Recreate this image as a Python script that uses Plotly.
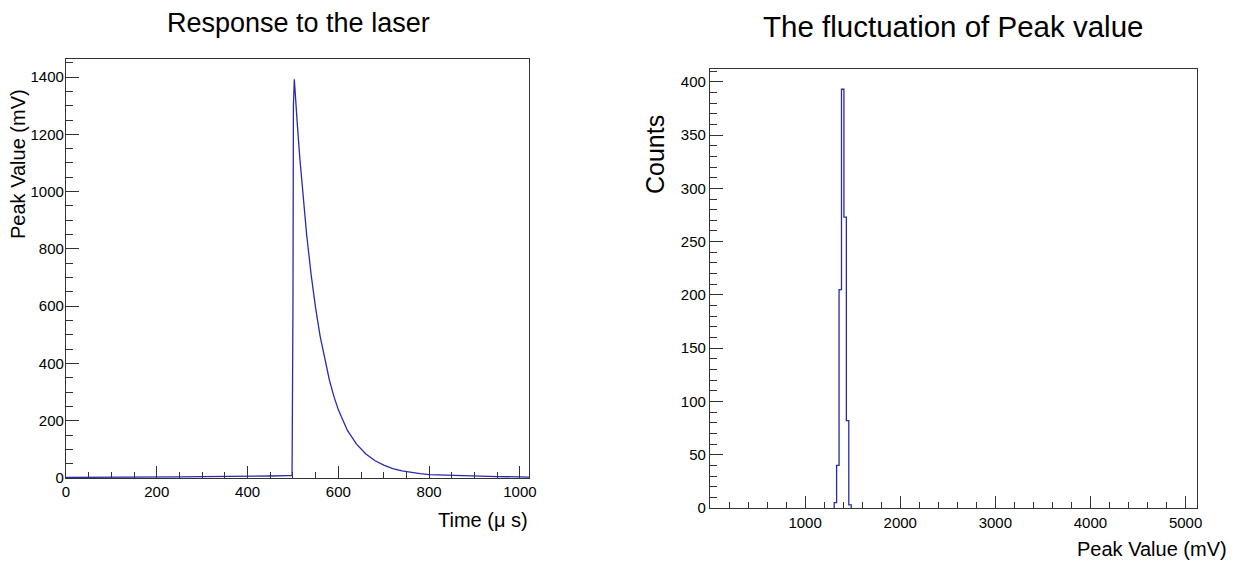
import plotly.graph_objects as go

# ---------------- data ----------------
# Left panel: waveform, Time (us) vs Peak Value (mV)
time_us = [0, 50, 100, 150, 200, 250, 300, 350, 400, 450, 490, 498, 500, 501, 503,
           506, 510, 515, 520, 530, 540, 550, 560, 570, 580, 590, 600, 620, 640,
           660, 680, 700, 720, 740, 760, 780, 800, 850, 900, 950, 1000, 1024]
peak_mv = [2, 2, 3, 3, 4, 4, 5, 5, 6, 7, 8, 8, 600, 1300, 1392,
           1300, 1226, 1119, 1022, 852, 710, 592, 494, 412, 344, 286, 238, 166, 118,
           85, 61, 45, 33, 25, 19, 15, 12, 9, 7, 5, 4, 3]

# Right panel: histogram of peak values
bin_width_mv = 25.6
bin_low_mv = [1305.6, 1331.2, 1356.8, 1382.4, 1408.0, 1433.6, 1459.2]
counts = [5, 40, 205, 393, 273, 82, 3]

left_title = "Response to the laser"
right_title = "The fluctuation of Peak value"

# ---------------- styling ----------------
OFF = 8                      # page body margin in the browser
W, H = 1236 - 2 * OFF, 570 - 2 * OFF
LINE = "#2b2ba8"
TICKFONT = dict(family="Liberation Sans Narrow, Arial Narrow, Liberation Sans, Arial",
                size=15, color="black")
TITLEFONT = dict(family="Liberation Sans, Arial, Helvetica", color="black")

def px(x):
    return (x - OFF) / W

def py(y):
    return 1 - (y - OFF) / H

# step outline for the histogram, built from the bins
hx = [bin_low_mv[0]]
hy = [0]
for lo, c in zip(bin_low_mv, counts):
    hx += [lo, lo + bin_width_mv]
    hy += [c, c]
hx.append(bin_low_mv[-1] + bin_width_mv)
hy.append(0)

fig = go.Figure()
fig.add_trace(go.Scatter(x=time_us, y=peak_mv, mode="lines",
                         line=dict(color=LINE, width=1.3),
                         xaxis="x", yaxis="y", showlegend=False))
fig.add_trace(go.Scatter(x=hx, y=hy, mode="lines",
                         line=dict(color=LINE, width=1.3),
                         xaxis="x2", yaxis="y2", showlegend=False))

common = dict(showline=True, linecolor="#333333", linewidth=1.3, mirror=True,
              ticks="inside", tickcolor="#333333", tickwidth=1, automargin=False,
              showgrid=False, zeroline=False, tickfont=TICKFONT)

fig.update_layout(
    template="none",
    width=W, height=H, margin=dict(l=0, r=0, t=0, b=0, autoexpand=False),
    paper_bgcolor="white", plot_bgcolor="white",
    xaxis=dict(domain=[px(66), px(529)], range=[0, 1020], anchor="y",
               tickvals=[0, 200, 400, 600, 800, 1000], ticklen=12,
               minor=dict(ticks="inside", ticklen=6, dtick=50, tick0=0,
                          tickcolor="#333333"),
               ticklabelstandoff=0, **common),
    yaxis=dict(domain=[py(478), py(59)], range=[0, 1463], anchor="x",
               tickvals=[0, 200, 400, 600, 800, 1000, 1200, 1400], ticklen=13,
               minor=dict(ticks="inside", ticklen=7, dtick=50, tick0=0,
                          tickcolor="#333333"),
               ticklabelstandoff=-2, **common),
    xaxis2=dict(domain=[px(710), px(1197)], range=[0, 5120], anchor="y2",
                tickvals=[1000, 2000, 3000, 4000, 5000], ticklen=12,
                minor=dict(ticks="inside", ticklen=6, dtick=200, tick0=0,
                           tickcolor="#333333"),
                ticklabelstandoff=1, **common),
    yaxis2=dict(domain=[py(508), py(69)], range=[0, 412], anchor="x2",
                tickvals=[0, 50, 100, 150, 200, 250, 300, 350, 400], ticklen=13,
                minor=dict(ticks="inside", ticklen=7, dtick=10, tick0=0,
                           tickcolor="#333333"),
                ticklabelstandoff=0, **common),
)

ann = [
    dict(text=left_title, x=px(298), y=py(23), font=dict(size=27, **TITLEFONT)),
    dict(text=right_title, x=px(953), y=py(26), font=dict(size=29.5, **TITLEFONT)),
    dict(text="Time (μ s)", x=px(530), y=py(520), xanchor="right",
         font=dict(size=20, **TITLEFONT)),
    dict(text="Peak Value (mV)", x=px(18), y=py(164), textangle=-90,
         font=dict(size=20, **TITLEFONT)),
    dict(text="Counts", x=px(655), y=py(155), textangle=-90,
         font=dict(size=25, **TITLEFONT)),
    dict(text="Peak Value (mV)", x=px(1229), y=py(549), xanchor="right",
         font=dict(size=20, **TITLEFONT)),
]
for a in ann:
    a.setdefault("xanchor", "center")
    a.update(xref="paper", yref="paper", yanchor="middle", showarrow=False)
fig.update_layout(annotations=ann)

fig.write_html("out.html")
